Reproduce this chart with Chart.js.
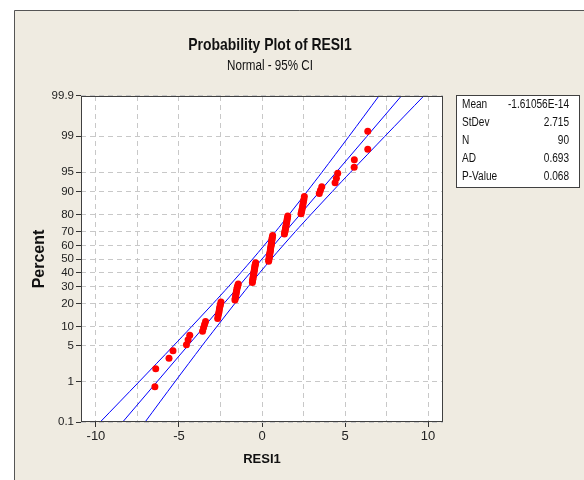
<!DOCTYPE html>
<html>
<head>
<meta charset="utf-8">
<script src="https://cdn.jsdelivr.net/npm/chart.js@4.4.1/dist/chart.umd.min.js"></script>
<style>
  html, body { margin: 0; padding: 0; background: #fff; }
  #wrap { width: 584px; height: 480px; }
</style>
</head>
<body>
<div id="wrap"><canvas id="prob-plot" width="584" height="480"></canvas></div>
<script>
// sorted residuals RESI1 (n = 90)
const residuals = [
  -6.45, -6.40, -5.60, -5.36,
  -4.55, -4.45, -4.35,
  -3.58, -3.52, -3.46, -3.40,
  -2.67, -2.64, -2.61, -2.58, -2.56, -2.53, -2.50, -2.47,
  -1.63, -1.61, -1.59, -1.57, -1.55, -1.53, -1.51, -1.49, -1.46, -1.43,
  -0.58, -0.57, -0.55, -0.54, -0.52, -0.51, -0.49, -0.48, -0.46, -0.45, -0.43, -0.42, -0.40, -0.38,
  0.40, 0.41, 0.43, 0.44, 0.45, 0.47, 0.48, 0.50, 0.51, 0.52, 0.54, 0.55, 0.57, 0.58, 0.59, 0.61, 0.62, 0.64,
  1.35, 1.37, 1.39, 1.41, 1.43, 1.45, 1.47, 1.49, 1.51, 1.53, 1.55,
  2.35, 2.38, 2.41, 2.44, 2.46, 2.49, 2.52, 2.55,
  3.45, 3.52, 3.60,
  4.40, 4.48, 4.56,
  5.55, 5.56,
  6.37, 6.37
];

// probability axis ticks (percent) and x axis ticks
const percentTicks = [0.1, 1, 5, 10, 20, 30, 40, 50, 60, 70, 80, 90, 95, 99, 99.9];
const xTicks = [-10, -5, 0, 5, 10];
const xGrid = [-10, -7.5, -5, -2.5, 0, 2.5, 5, 7.5, 10];

// fitted line and 95% CI bounds, read at these percents
const bandPercents = [0.1, 1, 5, 10, 20, 30, 50, 70, 80, 90, 95, 99, 99.9];
const fitX   = [-8.39, -6.32, -4.47, -3.48, -2.29, -1.42, 0, 1.42, 2.29, 3.48, 4.47, 6.32, 8.39];
const ciLow  = [-9.74, -7.40, -5.33, -4.24, -2.94, -2.02, -0.56, 0.83, 1.63, 2.72, 3.61, 5.24, 7.04];
const ciHigh = [-7.04, -5.24, -3.61, -2.72, -1.63, -0.83, 0.56, 2.02, 2.94, 4.24, 5.33, 7.40, 9.74];

// stats table
const statLabels = ['Mean', 'StDev', 'N', 'AD', 'P-Value'];
const statValues = ['-1.61056E-14', '2.715', '90', '0.693', '0.068'];

const SANS = "'Liberation Sans', Arial, sans-serif";

// inverse of the standard normal cdf (Acklam)
function normInv(p) {
  const a = [-3.969683028665376e+01, 2.209460984245205e+02, -2.759285104469687e+02, 1.383577518672690e+02, -3.066479806614716e+01, 2.506628277459239e+00];
  const b = [-5.447609879822406e+01, 1.615858368580409e+02, -1.556989798598866e+02, 6.680131188771972e+01, -1.328068155288572e+01];
  const c = [-7.784894002430293e-03, -3.223964580411365e-01, -2.400758277161838e+00, -2.549732539343734e+00, 4.374664141464968e+00, 2.938163982698783e+00];
  const d = [7.784695709041462e-03, 3.224671290700398e-01, 2.445134137142996e+00, 3.754408661907416e+00];
  const pl = 0.02425;
  let q, r;
  if (p < pl) {
    q = Math.sqrt(-2 * Math.log(p));
    return (((((c[0]*q+c[1])*q+c[2])*q+c[3])*q+c[4])*q+c[5]) / ((((d[0]*q+d[1])*q+d[2])*q+d[3])*q+1);
  }
  if (p > 1 - pl) {
    q = Math.sqrt(-2 * Math.log(1 - p));
    return -(((((c[0]*q+c[1])*q+c[2])*q+c[3])*q+c[4])*q+c[5]) / ((((d[0]*q+d[1])*q+d[2])*q+d[3])*q+1);
  }
  q = p - 0.5; r = q * q;
  return (((((a[0]*r+a[1])*r+a[2])*r+a[3])*r+a[4])*r+a[5])*q / (((((b[0]*r+b[1])*r+b[2])*r+b[3])*r+b[4])*r+1);
}

// plotting positions: median ranks (i - 0.3) / (n + 0.4)
const n = residuals.length;
const points = residuals.map((v, i) => ({ x: v, y: normInv((i + 1 - 0.3) / (n + 0.4)) }));
const toLine = (xs) => xs.map((v, i) => ({ x: v, y: normInv(bandPercents[i] / 100) }));

const zMin = normInv(0.001);
const zMax = normInv(0.999);

// narrow text: squeeze horizontally around the anchor point
function narrowText(ctx, text, x, y, sx) {
  ctx.save();
  ctx.translate(x, y);
  ctx.scale(sx, 1);
  ctx.fillText(text, 0, 0);
  ctx.restore();
}

// background, frame, titles and stats box
const decor = {
  id: 'decor',
  beforeDraw(chart) {
    const { ctx, chartArea: a } = chart;
    ctx.save();
    ctx.fillStyle = '#ffffff';
    ctx.fillRect(0, 0, chart.width, chart.height);
    ctx.fillStyle = '#efebe1';
    ctx.fillRect(14, 10, chart.width - 14, chart.height - 10);
    ctx.strokeStyle = '#555555';
    ctx.lineWidth = 1;
    ctx.beginPath();
    ctx.moveTo(14.5, chart.height);
    ctx.lineTo(14.5, 10.5);
    ctx.lineTo(chart.width, 10.5);
    ctx.stroke();
    ctx.fillStyle = '#ffffff';
    ctx.fillRect(a.left, a.top, a.right - a.left, a.bottom - a.top);
    ctx.restore();
  },
  afterDraw(chart) {
    const { ctx, chartArea: a } = chart;
    ctx.save();
    ctx.strokeStyle = '#404040';
    ctx.lineWidth = 1;
    ctx.strokeRect(a.left + 0.5, a.top + 0.5, a.right - a.left - 1, a.bottom - a.top - 1);

    ctx.fillStyle = '#111111';
    ctx.textAlign = 'center';
    ctx.textBaseline = 'middle';
    ctx.font = 'bold 17px ' + SANS;
    narrowText(ctx, 'Probability Plot of RESI1', 270, 45, 0.82);
    ctx.font = '14px ' + SANS;
    narrowText(ctx, 'Normal - 95% CI', 270, 66, 0.83);

    // stats box
    ctx.fillStyle = '#ffffff';
    ctx.fillRect(456, 95, 124, 93);
    ctx.strokeStyle = '#404040';
    ctx.strokeRect(456.5, 95.5, 123, 92);
    ctx.fillStyle = '#111111';
    ctx.font = '12px ' + SANS;
    statLabels.forEach((lab, i) => {
      const y = 105 + i * 17.8;
      ctx.textAlign = 'left';
      narrowText(ctx, lab, 462, y, 0.84);
      ctx.textAlign = 'right';
      narrowText(ctx, statValues[i], 569, y, 0.84);
    });
    ctx.restore();
  }
};

const chart = new Chart(document.getElementById('prob-plot'), {
  type: 'scatter',
  data: {
    datasets: [
      {
        label: 'RESI1',
        data: points,
        backgroundColor: '#ff0000',
        borderWidth: 0,
        pointRadius: 3.5,
        pointHoverRadius: 3.5
      },
      { type: 'line', label: 'Fit', data: toLine(fitX), borderColor: '#0000ff', borderWidth: 1, pointRadius: 0, fill: false },
      { type: 'line', label: 'Lower CI', data: toLine(ciLow), borderColor: '#0000ff', borderWidth: 1, pointRadius: 0, tension: 0.3, fill: false },
      { type: 'line', label: 'Upper CI', data: toLine(ciHigh), borderColor: '#0000ff', borderWidth: 1, pointRadius: 0, tension: 0.3, fill: false }
    ]
  },
  options: {
    responsive: false,
    animation: false,
    events: [],
    layout: { padding: { top: 96, right: 141, left: 0, bottom: 0 } },
    plugins: {
      legend: { display: false },
      tooltip: { enabled: false }
    },
    scales: {
      x: {
        type: 'linear',
        min: -10.9,
        max: 10.9,
        afterFit: (scale) => { scale.height = 58; },
        afterBuildTicks: (scale) => { scale.ticks = xGrid.map(v => ({ value: v })); },
        ticks: {
          autoSkip: false,
          maxRotation: 0,
          padding: 2,
          color: '#222222',
          font: { family: SANS, size: 13 },
          callback: (value) => xTicks.includes(value) ? String(value) : ''
        },
        grid: {
          color: '#c8c8c8',
          tickLength: 5,
          tickColor: (ctx) => (ctx.tick && xTicks.includes(ctx.tick.value)) ? '#333333' : 'rgba(0,0,0,0)',
          tickBorderDash: [1, 0]
        },
        border: { display: false, dash: [5, 4] },
        title: {
          display: true,
          text: 'RESI1',
          color: '#111111',
          font: { family: SANS, size: 13, weight: 'bold' },
          padding: { top: 0, bottom: 13 }
        }
      },
      y: {
        type: 'linear',
        min: zMin,
        max: zMax,
        afterFit: (scale) => { scale.width = 81; },
        afterBuildTicks: (scale) => { scale.ticks = percentTicks.map(p => ({ value: normInv(p / 100) })); },
        ticks: {
          autoSkip: false,
          padding: 2,
          color: '#222222',
          font: { family: SANS, size: 11.5 },
          callback: (value, index) => String(percentTicks[index])
        },
        grid: {
          color: '#c8c8c8',
          tickLength: 5,
          tickColor: '#333333',
          tickBorderDash: [1, 0]
        },
        border: { display: false, dash: [5, 4] },
        title: {
          display: true,
          text: 'Percent',
          color: '#111111',
          font: { family: SANS, size: 16, weight: 'bold' },
          padding: { top: 30, bottom: 0 }
        }
      }
    }
  },
  plugins: [decor]
});
</script>
</body>
</html>
